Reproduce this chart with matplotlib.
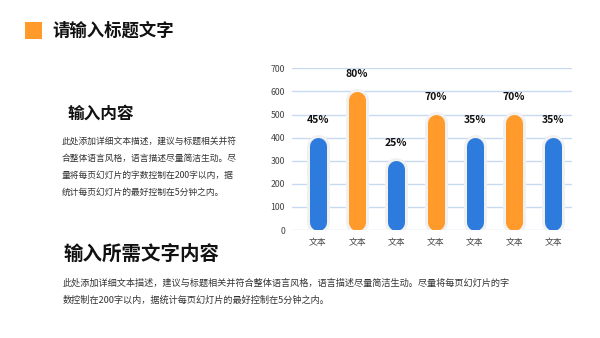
import matplotlib
matplotlib.use("Agg")
import matplotlib.pyplot as plt
from matplotlib.patches import Rectangle

plt.rcParams['font.family'] = ['Noto Sans CJK SC', 'DejaVu Sans']

categories = ["文本", "文本", "文本", "文本", "文本", "文本", "文本"]
values = [400, 600, 300, 500, 400, 500, 400]
labels = ["45%", "80%", "25%", "70%", "35%", "70%", "35%"]
colors = ["#2E7BDE", "#FF9A2B", "#2E7BDE", "#FF9A2B", "#2E7BDE", "#FF9A2B", "#2E7BDE"]
yticks = [0, 100, 200, 300, 400, 500, 600, 700]

title = "请输入标题文字"
head1 = "输入内容"
para1 = ["此处添加详细文本描述，建议与标题相关并符",
         "合整体语言风格，语言描述尽量简洁生动。尽",
         "量将每页幻灯片的字数控制在200字以内，据",
         "统计每页幻灯片的最好控制在5分钟之内。"]
head2 = "输入所需文字内容"
para2 = ["此处添加详细文本描述，建议与标题相关并符合整体语言风格，语言描述尽量简洁生动。尽量将每页幻灯片的字",
         "数控制在200字以内，据统计每页幻灯片的最好控制在5分钟之内。"]

W, H = 600, 338
fig = plt.figure(figsize=(6, 3.38), dpi=100)
fig.patch.set_facecolor("white")

def fx(px):
    return px / W

def fy(py):
    return 1 - py / H

# header square and title
fig.patches.append(Rectangle((fx(25), fy(39)), fx(17), 17 / H, transform=fig.transFigure,
                             facecolor="#FF9A2B", edgecolor="none"))
fig.text(fx(52), fy(31), title, fontsize=12.5, fontweight="bold", color="#111111",
         va="center", ha="left")

fig.text(fx(67), fy(114), head1, fontsize=12, fontweight="bold", color="#111111",
         va="center", ha="left")
for i, line in enumerate(para1):
    fig.text(fx(62), fy(141 + 17 * i), line, fontsize=6.3, color="#333333",
             va="center", ha="left")

fig.text(fx(63), fy(254), head2, fontsize=14, fontweight="bold", color="#111111",
         va="center", ha="left")
for i, line in enumerate(para2):
    fig.text(fx(63), fy(283 + 17 * i), line, fontsize=6.6, color="#333333",
             va="center", ha="left")

# chart
ax = fig.add_axes([fx(292), fy(230), fx(572) - fx(292), (230 - 68.3) / H])
ax.set_xlim(-0.66, 6.48)
ax.set_ylim(0, 700)
ax.set_yticks(yticks)
ax.set_yticklabels([str(t) for t in yticks])
ax.set_xticks(range(len(categories)))
ax.set_xticklabels(categories)
ax.tick_params(axis="both", length=0, labelsize=6.3, colors="#444444")
ax.tick_params(axis="y", pad=5)
ax.tick_params(axis="x", pad=6)
for s in ax.spines.values():
    s.set_visible(False)
ax.grid(axis="y", color="#C8DAF2", linewidth=1)
ax.set_axisbelow(True)

# units per pixel in y
ax_h_px = (230 - 68.3)
upp = 700 / ax_h_px
bar_px = 17
halo_px = 23
r_bar = bar_px / 2 * upp
for i, (v, c, lab) in enumerate(zip(values, colors, labels)):
    ax.plot([i, i], [r_bar, v - r_bar], color="#F1F1F1", linewidth=halo_px * 0.72,
            solid_capstyle="round", zorder=2)
    ax.plot([i, i], [r_bar, v - r_bar], color=c, linewidth=bar_px * 0.72,
            solid_capstyle="round", zorder=3)
    ax.annotate(lab, (i, v), xytext=(0, 12.5), textcoords="offset points",
                ha="center", va="center", fontsize=7.5, fontweight="bold", color="#111111")

fig.savefig("out.png", dpi=100, facecolor="white")
